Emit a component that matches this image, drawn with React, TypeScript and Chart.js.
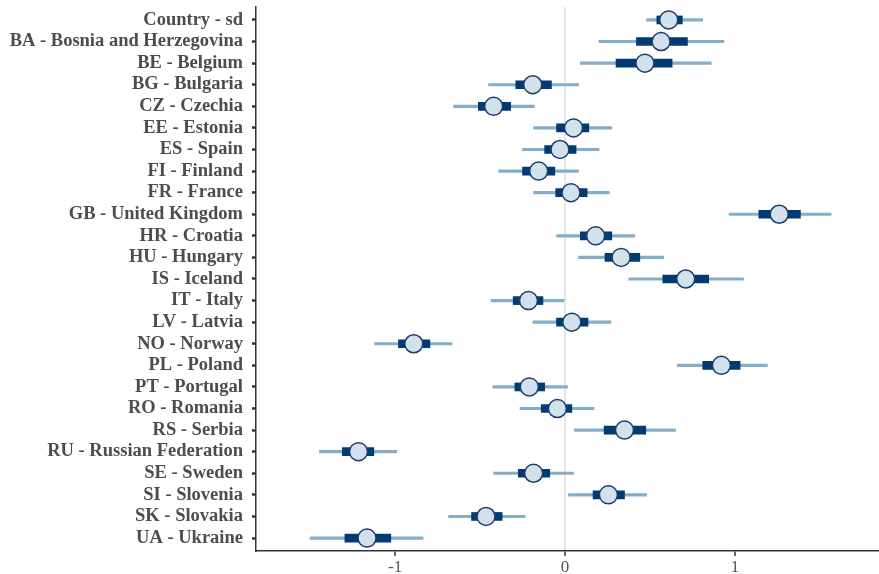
import React, { useEffect, useRef } from 'react';
import { Chart, registerables } from 'chart.js';

Chart.register(...registerables);

const countries = [
  'Country - sd',
  'BA - Bosnia and Herzegovina',
  'BE - Belgium',
  'BG - Bulgaria',
  'CZ - Czechia',
  'EE - Estonia',
  'ES - Spain',
  'FI - Finland',
  'FR - France',
  'GB - United Kingdom',
  'HR - Croatia',
  'HU - Hungary',
  'IS - Iceland',
  'IT - Italy',
  'LV - Latvia',
  'NO - Norway',
  'PL - Poland',
  'PT - Portugal',
  'RO - Romania',
  'RS - Serbia',
  'RU - Russian Federation',
  'SE - Sweden',
  'SI - Slovenia',
  'SK - Slovakia',
  'UA - Ukraine',
];

const estimates = [
  0.61, 0.565, 0.47, -0.19, -0.42, 0.05, -0.03, -0.155, 0.035, 1.26,
  0.18, 0.33, 0.71, -0.215, 0.04, -0.89, 0.92, -0.21, -0.045, 0.35,
  -1.215, -0.185, 0.255, -0.465, -1.165,
];

const innerLow = [
  0.54, 0.42, 0.3, -0.29, -0.51, -0.05, -0.12, -0.25, -0.055, 1.14,
  0.09, 0.235, 0.575, -0.305, -0.05, -0.98, 0.81, -0.295, -0.14, 0.23,
  -1.31, -0.275, 0.165, -0.55, -1.295,
];

const innerHigh = [
  0.69, 0.72, 0.63, -0.08, -0.32, 0.14, 0.065, -0.06, 0.13, 1.385,
  0.275, 0.44, 0.845, -0.13, 0.135, -0.795, 1.03, -0.12, 0.04, 0.475,
  -1.125, -0.09, 0.35, -0.37, -1.025,
];

const outerLow = [
  0.48, 0.2, 0.09, -0.45, -0.655, -0.185, -0.25, -0.39, -0.185, 0.965,
  -0.05, 0.08, 0.375, -0.435, -0.19, -1.12, 0.66, -0.425, -0.265, 0.055,
  -1.445, -0.42, 0.02, -0.685, -1.5,
];

const outerHigh = [
  0.81, 0.935, 0.86, 0.08, -0.18, 0.275, 0.2, 0.08, 0.26, 1.565,
  0.41, 0.58, 1.05, 0.0, 0.27, -0.665, 1.19, 0.015, 0.17, 0.65,
  -0.99, 0.05, 0.48, -0.235, -0.835,
];

const xTickValues = [-1, 0, 1];

export default function App() {
  const ref = useRef<HTMLCanvasElement | null>(null);

  useEffect(() => {
    if (!ref.current) return;
    const idx = countries.map((_, i) => i);
    const chart = new Chart(ref.current, {
      type: 'bar',
      data: {
        datasets: [
          {
            type: 'scatter',
            order: 1,
            data: idx.map((i) => ({ x: estimates[i], y: i })),
            pointRadius: 9,
            pointHoverRadius: 9,
            pointBackgroundColor: '#d2e1ec',
            pointBorderColor: '#1f3d68',
            pointBorderWidth: 1.5,
            showLine: false,
          } as any,
          {
            type: 'bar',
            order: 2,
            indexAxis: 'y',
            grouped: false,
            data: idx.map((i) => ({ x: [innerLow[i], innerHigh[i]], y: i })),
            backgroundColor: '#003c72',
            borderWidth: 0,
            barThickness: 8,
          } as any,
          {
            type: 'bar',
            order: 3,
            indexAxis: 'y',
            grouped: false,
            data: idx.map((i) => ({ x: [outerLow[i], outerHigh[i]], y: i })),
            backgroundColor: '#86adc8',
            borderWidth: 0,
            barThickness: 2.5,
          } as any,
        ],
      },
      options: {
        animation: false,
        responsive: false,
        indexAxis: 'y',
        layout: { autoPadding: false, padding: { top: 7, right: 0, bottom: 0, left: 0 } },
        plugins: {
          legend: { display: false },
          tooltip: { enabled: false },
        },
        scales: {
          x: {
            type: 'linear',
            position: 'bottom',
            offset: false,
            min: -1.818,
            max: 1.847,
            afterBuildTicks: (scale: any) => {
              scale.ticks = xTickValues.map((v) => ({ value: v }));
            },
            afterFit: (scale: any) => {
              scale.height = 23;
              scale.paddingLeft = 0;
              scale.paddingRight = 0;
            },
            border: { display: true, color: '#333333', width: 1.5 },
            grid: {
              offset: false,
              drawOnChartArea: true,
              drawTicks: true,
              tickLength: 5,
              tickWidth: 1.5,
              tickColor: '#333333',
              lineWidth: 2,
              color: (ctx: any) =>
                ctx.tick && ctx.tick.value === 0 ? '#e6e6e6' : 'rgba(0,0,0,0)',
            },
            ticks: {
              autoSkip: false,
              maxRotation: 0,
              padding: 1,
              color: '#555555',
              font: { family: "'Liberation Serif', 'DejaVu Serif', serif", size: 17 },
              callback: (v: any) => String(v),
            },
          },
          y: {
            type: 'linear',
            position: 'left',
            reverse: true,
            offset: false,
            min: -0.6,
            max: 24.6,
            afterBuildTicks: (scale: any) => {
              scale.ticks = idx.map((i) => ({ value: i }));
            },
            afterFit: (scale: any) => {
              scale.width = 256;
              scale.paddingTop = 0;
              scale.paddingBottom = 0;
            },
            border: { display: true, color: '#333333', width: 1.5 },
            grid: {
              offset: false,
              drawOnChartArea: false,
              drawTicks: true,
              tickLength: 4,
              tickWidth: 2.5,
              tickColor: '#333333',
            },
            ticks: {
              autoSkip: false,
              padding: 9,
              color: '#4d4d4d',
              font: {
                family: "'Liberation Serif', 'DejaVu Serif', serif",
                size: 18.5,
                weight: 'bold',
              },
              callback: (v: any) => countries[v] ?? '',
            },
          },
        },
      },
    });
    return () => chart.destroy();
  }, []);

  return (
    <div style={{ position: 'absolute', left: 0, top: 0, width: 879, height: 574, background: '#ffffff' }}>
      <canvas ref={ref} width={879} height={574} />
    </div>
  );
}
